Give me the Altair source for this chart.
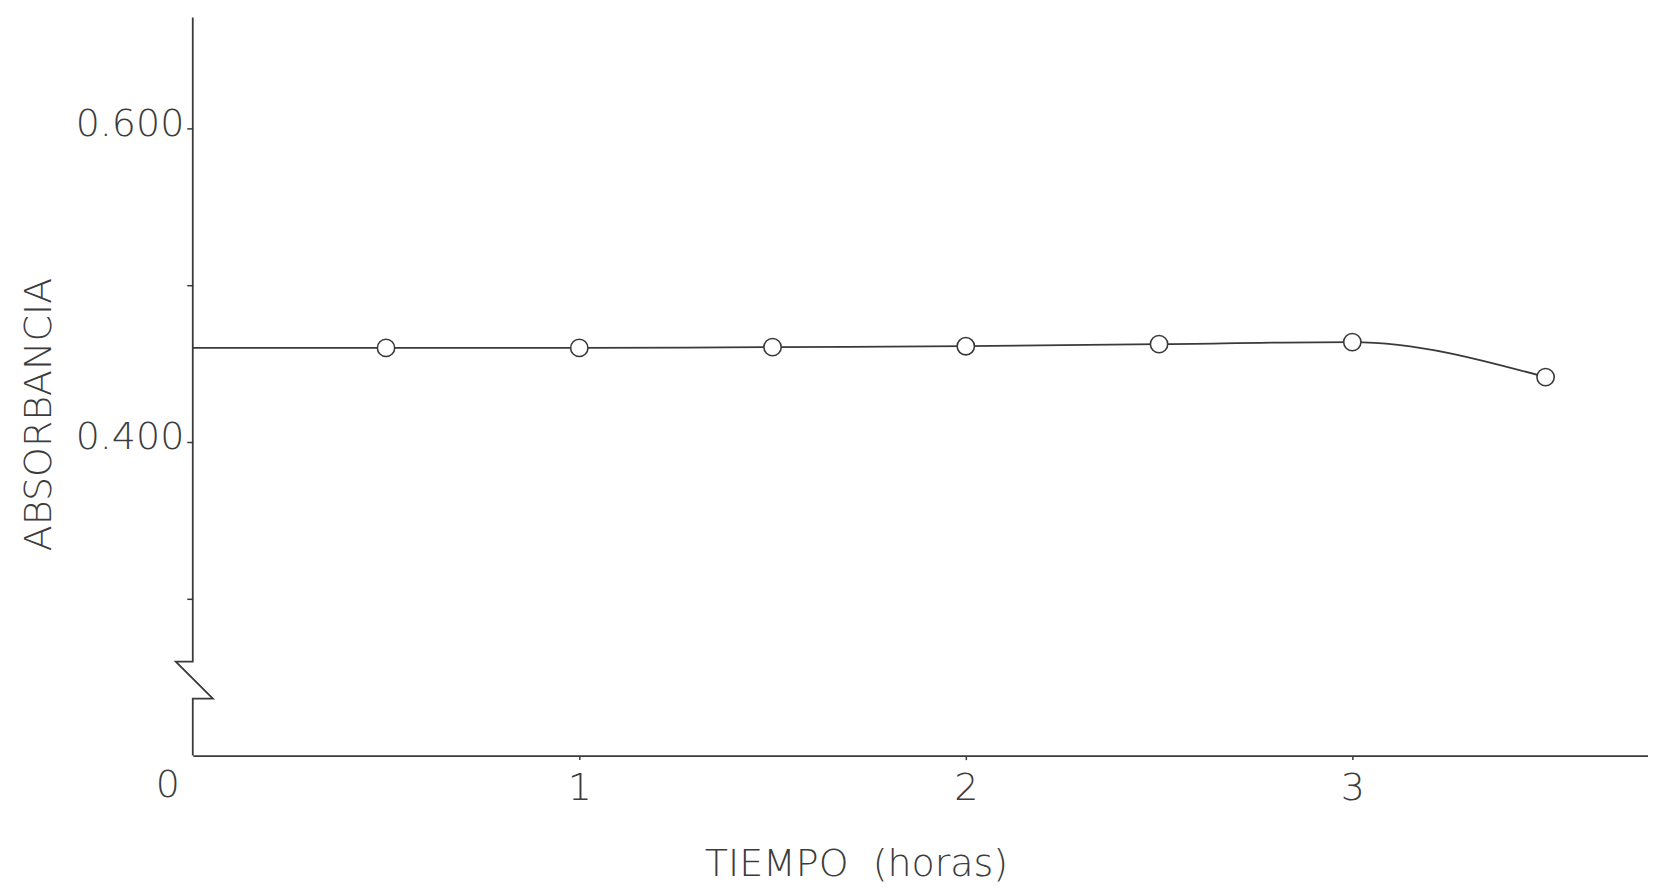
import altair as alt
import pandas as pd

# ---- data ----
tiempo = [0.5, 1.0, 1.5, 2.0, 2.5, 3.0, 3.5]
absorbancia = [0.460, 0.460, 0.4605, 0.4611, 0.4624, 0.4637, 0.4414]
# drawn curve starts at the y axis
curve_start_t = [0.0]
curve_start_a = [0.460]

x_ticks = [1, 2, 3]
y_ticks = [0.3, 0.4, 0.5, 0.6]
x_title = "TIEMPO\u00a0 (horas)"
y_title = "ABSORBANCIA"
origin_label = ["0"]

# y-axis line with the break symbol (hours, absorbance)
axis_t = [0.0, 0.0, -0.044, 0.052, 0.0, 0.0]
axis_a = [0.6707, 0.2599, 0.2599, 0.2363, 0.2363, 0.2]

X_DOMAIN = [0, 3.765]
Y_DOMAIN = [0.2, 0.6707]
INK = "#3a3a3a"
TXT = "#3c3c3c"
FONT = "'DejaVu Sans ExtraLight', 'DejaVu Sans Light', 'DejaVu Sans'"

pts = pd.DataFrame({"t": tiempo, "a": absorbancia})
curve = pd.DataFrame({"t": curve_start_t + tiempo, "a": curve_start_a + absorbancia})
axis_df = pd.DataFrame({"t": axis_t, "a": axis_a, "o": list(range(len(axis_t)))})
orig = pd.DataFrame({"t": [0.0], "a": [Y_DOMAIN[0]], "lab": origin_label})

xs = alt.Scale(domain=X_DOMAIN, nice=False, zero=False)
ys = alt.Scale(domain=Y_DOMAIN, nice=False, zero=False)

x_axis = alt.Axis(
    values=x_ticks, title=x_title, grid=False, domain=True,
    domainColor=INK, domainWidth=1.6, tickColor=INK, tickSize=4, tickWidth=1.5,
    labelFont=FONT, labelFontSize=38, labelFontWeight=200, labelColor=TXT, labelPadding=10,
    labelFlush=False, labelBaseline="top",
    titleFont=FONT, titleFontSize=38, titleFontWeight=200, titleColor=TXT,
    titleX=664, titleY=109, titleAlign="center", titleBaseline="middle",
    format="d",
)
y_axis = alt.Axis(
    values=y_ticks, title=y_title, grid=False, domain=False,
    tickColor=INK, tickSize=6, tickWidth=1.5,
    labelExpr="(abs(datum.value-0.4)<1e-6 || abs(datum.value-0.6)<1e-6) ? format(datum.value, '.3f') : ''",
    labelFont=FONT, labelFontSize=38, labelFontWeight=200, labelColor=TXT, labelPadding=3,
    labelOffset=-4, labelBaseline="middle", labelFlush=False,
    titleFont=FONT, titleFontSize=38, titleFontWeight=200, titleColor=TXT,
    titleAngle=270, titleX=-153, titleY=397, titleAlign="center", titleBaseline="middle",
)

enc = dict(
    x=alt.X("t:Q", scale=xs, axis=x_axis),
    y=alt.Y("a:Q", scale=ys, axis=y_axis),
)

axis_line = alt.Chart(axis_df).mark_line(color=INK, strokeWidth=1.8, clip=False).encode(
    order="o:Q", **enc
)

line = alt.Chart(curve).mark_line(interpolate="monotone", color=INK, strokeWidth=1.8).encode(**enc)

points = alt.Chart(pts).mark_point(
    shape="circle", filled=True, fill="white", stroke=INK, strokeWidth=1.6,
    size=300, opacity=1,
).encode(**enc)

zero_txt = alt.Chart(orig).mark_text(
    font=FONT, fontSize=38, fontWeight=200, color=TXT, dx=-25, dy=30,
    align="center", baseline="middle",
).encode(text="lab:N", **enc)

chart = alt.layer(axis_line, line, points, zero_txt).properties(
    width=1457, height=739,
    autosize=alt.AutoSizeParams(type="none"),
    padding={"left": 185, "top": 9, "right": 0, "bottom": 128},
    background="white",
).configure_view(stroke=None)

chart.save("out.html", embed_options={"renderer": "svg", "actions": False})
